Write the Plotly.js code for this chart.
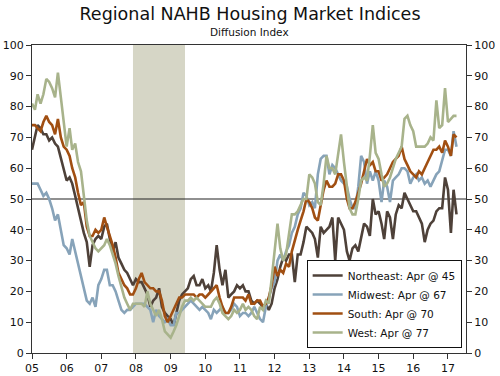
<!DOCTYPE html>
<html>
<head>
<meta charset="utf-8">
<script src="https://cdn.plot.ly/plotly-3.0.1.min.js"></script>
<style>
html,body{margin:0;padding:0;background:#fff;}
#chart{width:500px;height:376px;}
</style>
</head>
<body>
<div id="chart"></div>
<script>
// Monthly data, Jan 2005 .. Apr 2017
var startYear = 2005;
var northeast = [
  66,70,74,73,71,71,69,70,68,67,63,60,
  56,57,55,51,47,42,39,36,28,35,37,38,
  37,41,42,37,33,36,31,29,27,26,24,22,
  24,23,23,21,19,15,17,18,21,15,13,12,
  11,9,13,17,19,20,21,24,25,22,22,24,
  21,22,20,26,35,27,22,27,18,19,20,22,
  21,22,20,20,17,16,17,16,15,16,14,16,
  21,24,28,31,30,32,32,23,32,32,36,41,
  40,39,37,31,41,39,40,41,44,30,44,42,
  40,33,30,34,35,33,38,42,41,38,50,45,
  46,42,37,46,44,37,45,48,47,52,50,48,
  46,46,44,42,36,40,42,43,46,47,47,57,
  53,39,53,45
];
var midwest = [
  55,55,55,53,51,52,50,47,43,45,40,35,
  34,32,37,33,29,25,21,17,16,18,15,22,
  24,27,27,22,22,20,17,14,13,14,14,15,
  16,16,16,16,15,14,10,14,12,11,10,11,
  9,9,13,13,14,15,16,17,16,15,14,15,
  14,13,11,14,13,14,15,13,13,14,16,15,
  12,13,13,12,13,15,13,11,10,15,18,21,
  23,30,32,30,33,35,39,41,45,47,52,51,
  48,49,47,58,63,64,64,58,61,60,58,56,
  55,54,50,47,47,54,64,62,55,59,56,59,
  56,49,56,54,49,56,57,58,60,60,59,55,
  57,58,56,57,55,56,54,56,58,59,63,66,
  66,64,72,67
];
var south = [
  74,74,73,72,75,77,75,74,71,76,70,67,
  66,64,60,57,52,48,49,41,38,38,40,39,
  40,44,41,38,35,31,26,24,22,21,19,19,
  21,24,26,23,22,21,21,20,20,17,12,10,
  12,14,16,18,18,19,19,19,19,18,19,19,
  18,19,20,21,22,18,15,13,13,15,18,18,
  18,18,17,19,16,16,17,17,15,16,18,22,
  28,25,27,26,29,28,33,37,40,43,46,50,
  49,47,44,43,48,53,56,54,54,55,58,58,
  56,50,47,47,49,52,55,59,63,61,62,59,
  59,56,57,58,60,62,63,64,67,63,61,59,
  58,57,59,58,60,62,64,66,66,67,65,69,
  67,64,71,70
];
var west = [
  81,79,84,81,84,89,88,86,83,91,83,76,
  67,73,66,68,62,59,52,43,38,36,34,33,
  34,35,37,35,32,29,25,21,18,16,14,16,
  16,16,16,15,20,16,14,12,14,11,7,6,
  5,7,9,12,15,17,17,18,17,18,17,16,
  15,15,15,17,18,16,13,12,11,12,14,13,
  14,16,14,15,14,12,11,15,14,17,16,24,
  33,42,34,30,32,38,45,45,46,48,50,50,
  58,57,55,49,48,55,64,60,60,58,64,71,
  62,54,47,45,45,50,56,57,56,64,74,65,
  63,58,54,55,57,60,63,65,67,76,77,74,
  72,67,67,67,67,68,70,69,82,73,74,86,
  75,76,77,77
];
var seriesNames = ["Northeast: Apr @ 45","Midwest: Apr @ 67","South: Apr @ 70","West: Apr @ 77"];
var tickLabels = ["05","06","07","08","09","10","11","12","13","14","15","16","17"];
var recession = ["2007-12-01","2009-06-01"];

function monthDates(n){
  var out=[];
  for(var i=0;i<n;i++){
    var y=startYear+Math.floor(i/12), m=(i%12)+1;
    out.push(y+"-"+(m<10?"0":"")+m+"-01");
  }
  return out;
}
var dates = monthDates(northeast.length);
var tickVals = tickLabels.map(function(t,i){return (startYear+i)+"-01-01";});

var colors = ["#4e4139","#87a3b9","#a14f12","#a8b38b"];
var data = [northeast, midwest, south, west];
var traces = data.map(function(d,i){
  return {x:dates,y:d,type:"scatter",mode:"lines",name:seriesNames[i],
    line:{color:colors[i],width:2.6}};
});
// invisible trace to activate the mirrored right axis
traces.push({x:dates,y:northeast,type:"scatter",mode:"lines",yaxis:"y2",
  showlegend:false,hoverinfo:"skip",line:{width:0},opacity:0});

var font = "DejaVu Sans, Verdana, sans-serif";
var layout = {
  width:500,height:376,
  margin:{l:32,r:34,t:45,b:23},
  paper_bgcolor:"#fff",plot_bgcolor:"#fff",
  showlegend:true,
  font:{family:font,size:11,color:"#111"},
  title:{text:"Regional NAHB Housing Market Indices",x:0.5,xanchor:"center",
    y:0.962,yanchor:"middle",yref:"container",font:{family:font,size:17.5,color:"#111"}},
  xaxis:{type:"date",range:["2005-01-01","2017-07-10"],tickvals:tickVals,ticktext:tickLabels,
    ticks:"outside",ticklen:5,tickcolor:"#333",showline:true,linecolor:"#333",linewidth:1,
    mirror:true,showgrid:false,zeroline:false,tickfont:{family:font,size:11,color:"#111"}},
  yaxis:{range:[0,100],dtick:10,ticks:"outside",ticklen:5,tickcolor:"#333",showline:true,
    linecolor:"#333",linewidth:1,mirror:true,showgrid:false,zeroline:false,
    tickfont:{family:font,size:11,color:"#111"}},
  yaxis2:{range:[0,100],dtick:10,overlaying:"y",side:"right",ticks:"outside",ticklen:5,
    tickcolor:"#333",showline:false,showgrid:false,zeroline:false,
    tickfont:{family:font,size:11,color:"#111"}},
  shapes:[
    {type:"rect",xref:"x",yref:"paper",x0:recession[0],x1:recession[1],y0:0,y1:1,
      fillcolor:"#d6d6c6",line:{width:0},layer:"below"},
    {type:"line",xref:"paper",yref:"y",x0:0,x1:1,y0:50,y1:50,line:{color:"#222",width:1.2},layer:"below"}
  ],
  annotations:[
    {text:"Diffusion Index",xref:"paper",yref:"paper",x:0.5,y:1.042,showarrow:false,
      xanchor:"center",yanchor:"middle",font:{family:font,size:10.5,color:"#111"}}
  ],
  legend:{x:0.99,y:0.016,xanchor:"right",yanchor:"bottom",bgcolor:"#fff",
    bordercolor:"#111",borderwidth:1,font:{family:font,size:10.5,color:"#111"},
    itemwidth:30,tracegroupgap:0}
};
Plotly.newPlot("chart",traces,layout,{staticPlot:true,displayModeBar:false});
</script>
</body>
</html>
